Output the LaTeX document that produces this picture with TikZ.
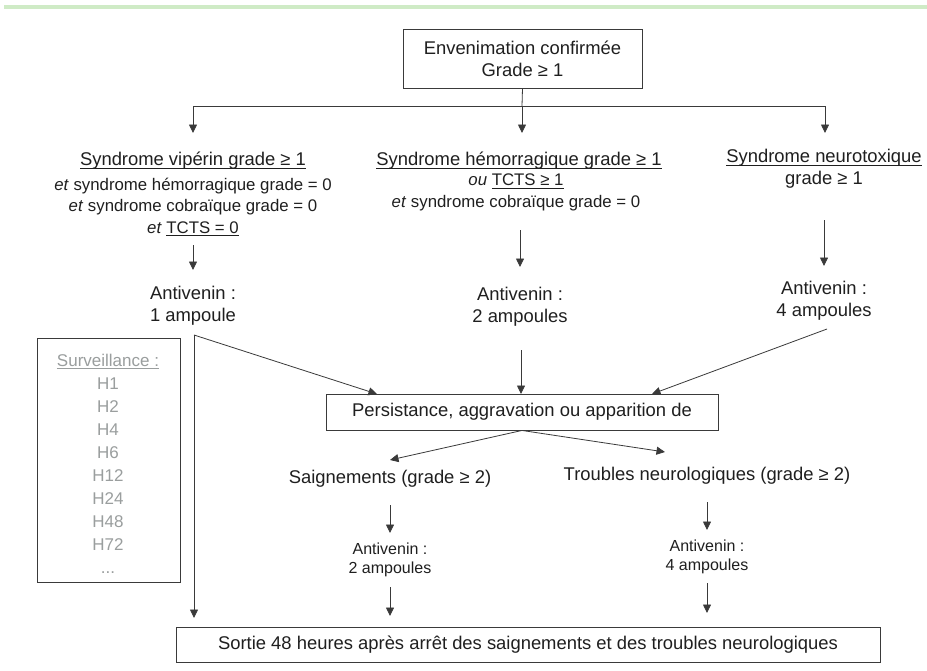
\documentclass[tikz,border=0pt]{standalone}
\usepackage{fontspec}
\setmainfont{Liberation Sans}
\usetikzlibrary{arrows.meta}
\definecolor{ink}{HTML}{1F1F1F}
\definecolor{lineg}{HTML}{3A3A3A}
\definecolor{survg}{HTML}{9A9E9E}
\definecolor{scangreen}{HTML}{CFEBC6}
\newsavebox{\myulbox}
\newcommand{\myul}[1]{\leavevmode\sbox{\myulbox}{#1}\rlap{\rule[-2.6pt]{\wd\myulbox}{0.8pt}}\usebox{\myulbox}}
\newcommand{\fmain}{\fontsize{18.4}{22}\selectfont}
\newcommand{\fsec}{\fontsize{16.8}{21.5}\selectfont}
\newcommand{\fsmall}{\fontsize{16}{19}\selectfont}
\newcommand{\fsurv}{\fontsize{17}{23}\selectfont}
\tikzset{
  conn/.style={draw=lineg, line width=0.8pt},
  arr/.style={conn, -{Triangle[length=8.5pt,width=8pt]}},
  boxnode/.style={draw=lineg, line width=0.9pt, fill=white, text=ink, inner sep=0pt, align=center},
  txt/.style={text=ink, inner sep=0pt, align=center},
}
\begin{document}
\begin{tikzpicture}[x=1pt,y=-1pt]
\useasboundingbox[fill=white] (0,0) rectangle (927,670);
% scan border
\fill[scangreen] (4,5) rectangle (927,9);

% top box
\node[boxnode, minimum width=239, minimum height=59, font=\fmain] (top) at (522.5,58.5) {Envenimation confirmée\\Grade ≥ 1};
\coordinate (jC) at (522,106);
\coordinate (jL) at (193,106);
\coordinate (jR) at (825,106);
\coordinate (tL) at (193,133);
\coordinate (tC) at (522,133);
\coordinate (tR) at (825,133);
\draw[conn] (top.south) -- (jC);
\draw[conn] (jL) -- (jR);
\draw[arr] (jL) -- (tL);
\draw[arr] (jC) -- (tC);
\draw[arr] (jR) -- (tR);

% left column
\node[txt, font=\fmain] (synv) at (193,161) {\myul{Syndrome vipérin grade ≥ 1}};
\node[txt, font=\fsec] (synv2) at (193,207) {\textit{et} syndrome hémorragique grade = 0\\\textit{et} syndrome cobraïque grade = 0\\\textit{et} \myul{TCTS = 0}};
\coordinate (aL1) at (193,245);
\coordinate (aL2) at (193,270);
\draw[arr] (aL1) -- (aL2);
\node[txt, font=\fmain] (antL) at (193,306) {Antivenin :\\1 ampoule};

% middle column
\node[txt, font=\fmain] (synh) at (519,161) {\myul{Syndrome hémorragique grade ≥ 1}};
\node[txt, font=\fsec] (synh2) at (516,192.5) {\textit{ou} \myul{TCTS ≥ 1}\\\textit{et} syndrome cobraïque grade = 0};
\coordinate (aC1) at (520,230);
\coordinate (aC2) at (520,267);
\draw[arr] (aC1) -- (aC2);
\node[txt, font=\fmain] (antC) at (520,306.5) {Antivenin :\\2 ampoules};

% right column
\node[txt, font=\fmain] (synn) at (824,158) {\myul{Syndrome neurotoxique}};
\node[txt, font=\fmain] (synn2) at (824,180) {grade ≥ 1};
\coordinate (aR1) at (824,220);
\coordinate (aR2) at (824,266);
\draw[arr] (aR1) -- (aR2);
\node[txt, font=\fmain] (antR) at (824,301) {Antivenin :\\4 ampoules};

% persistance box
\node[boxnode, minimum width=392, minimum height=36, font=\fmain] (pers) at (522,412) {Persistance, aggravation ou apparition de};
\coordinate (dL) at (194,335);
\coordinate (dC) at (521,350);
\coordinate (dR) at (827,329);
\coordinate (pL) at (377,394);
\coordinate (pC) at (521,394);
\coordinate (pR) at (652,394);
\draw[arr] (dL) -- (pL);
\draw[arr] (dC) -- (pC);
\draw[arr] (dR) -- (pR);

% surveillance
\node[draw=lineg, line width=0.9pt, minimum width=143, minimum height=244, inner sep=0pt] (surv) at (108.5,460) {};
\node[txt, text=survg, font=\fsurv] (survt) at (108,463.5) {\myul{Surveillance :}\\H1\\H2\\H4\\H6\\H12\\H24\\H48\\H72\\...};

% second level
\node[txt, font=\fmain] (saig) at (390,479) {Saignements (grade ≥ 2)};
\node[txt, font=\fmain] (trou) at (707,476) {Troubles neurologiques (grade ≥ 2)};
\coordinate (sL) at (390,460);
\coordinate (sR) at (665,452);
\draw[arr] (pers.south) -- (sL);
\draw[arr] (pers.south) -- (sR);

\coordinate (bL1) at (390,505);
\coordinate (bL2) at (390,533);
\draw[arr] (bL1) -- (bL2);
\node[txt, font=\fsmall] (antS) at (390,560) {Antivenin :\\2 ampoules};
\coordinate (cL1) at (390,587);
\coordinate (cL2) at (390,616);
\draw[arr] (cL1) -- (cL2);

\coordinate (bR1) at (707,502);
\coordinate (bR2) at (707,530);
\draw[arr] (bR1) -- (bR2);
\node[txt, font=\fsmall] (antT) at (707,556.5) {Antivenin :\\4 ampoules};
\coordinate (cR1) at (707,583);
\coordinate (cR2) at (707,613);
\draw[arr] (cR1) -- (cR2);

% sortie
\node[boxnode, minimum width=704, minimum height=35, font=\fmain] (sort) at (528,645) {Sortie 48 heures après arrêt des saignements et des troubles neurologiques};
\coordinate (eL) at (194,618);
\draw[arr] (dL) -- (eL);
\end{tikzpicture}
\end{document}
